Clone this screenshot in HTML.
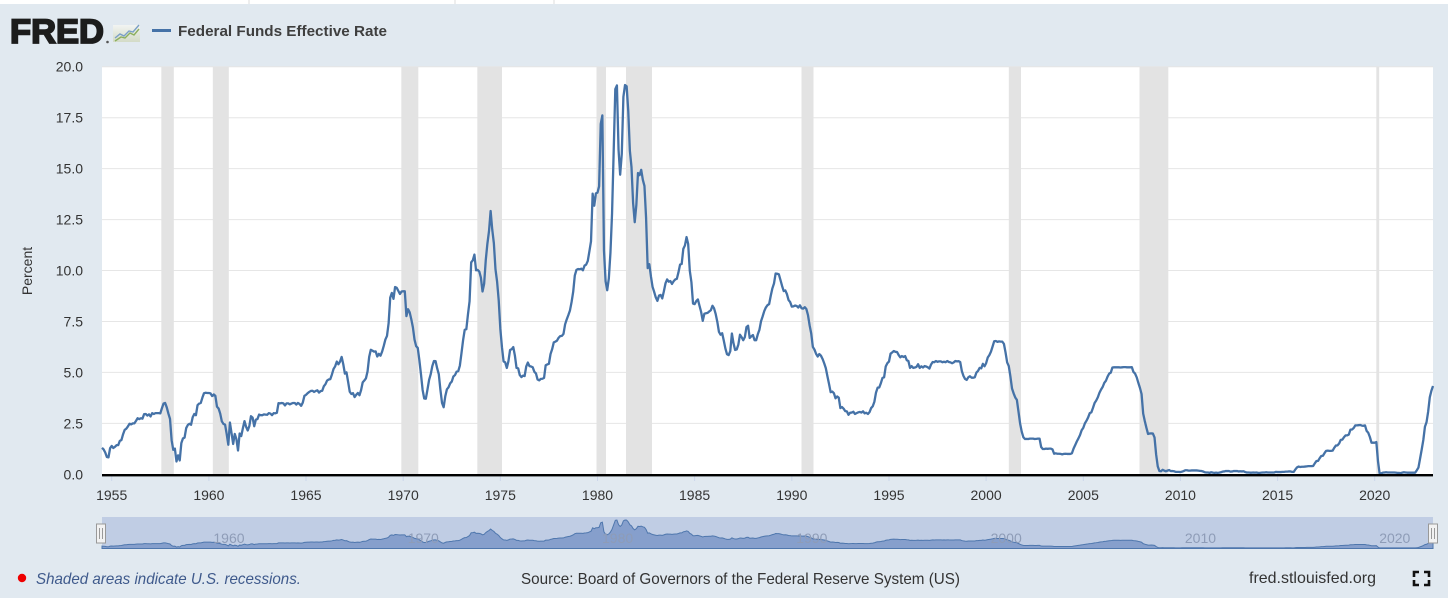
<!DOCTYPE html>
<html><head><meta charset="utf-8">
<style>
html,body{margin:0;padding:0;background:#e1e9f0;overflow:hidden;}
svg{display:block;font-family:"Liberation Sans",Arial,sans-serif;}
</style></head>
<body>
<svg id="c" width="1448" height="598" viewBox="0 0 1448 598" xmlns="http://www.w3.org/2000/svg">
<defs>
<linearGradient id="ig" x1="0" y1="0" x2="0" y2="1">
<stop offset="0" stop-color="#f2f4f2"/><stop offset="1" stop-color="#d3dbc6"/>
</linearGradient>
</defs>
<rect width="1448" height="598" fill="#e1e9f0"/>
<rect width="1448" height="4" fill="#ffffff"/>
<line x1="249" y1="0" x2="249" y2="4" stroke="#dddddd"/>
<line x1="455" y1="0" x2="455" y2="4" stroke="#dddddd"/>
<line x1="554" y1="0" x2="554" y2="4" stroke="#dddddd"/>

<!-- header -->
<text x="10" y="43.2" font-size="34.5" font-weight="bold" fill="#1c1c1c" stroke="#1c1c1c" stroke-width="1.8" textLength="94" lengthAdjust="spacingAndGlyphs">FRED</text>
<circle cx="107.5" cy="42" r="1.3" fill="#555"/>
<rect x="113" y="25" width="27" height="17" fill="url(#ig)"/>
<polyline points="115,38 120,34 124,36 129,31 133,32 139,25" fill="none" stroke="#7a9fc6" stroke-width="1.4"/>
<polyline points="115,41 121,37 125,38 130,33 134,35 139,29" fill="none" stroke="#8caf5e" stroke-width="1.4"/>
<line x1="152" y1="30.5" x2="171" y2="30.5" stroke="#4572a7" stroke-width="3"/>
<text x="178" y="36" font-size="15" font-weight="bold" fill="#3f3f3f" textLength="209" lengthAdjust="spacingAndGlyphs">Federal Funds Effective Rate</text>

<!-- plot -->
<rect x="102" y="66.7" width="1331" height="408" fill="#ffffff"/>
<g id="grid" stroke="#e6e6e6" stroke-width="1"></g>
<g id="rec" fill="#e3e3e3"></g>
<g id="ylab" font-size="14" fill="#333" text-anchor="end"></g>
<g id="xlab" font-size="14" fill="#333" text-anchor="middle"></g>
<g id="xtick" stroke="#ccd6eb" stroke-width="1"></g>
<path id="ln" d="" fill="none" stroke="#4572a7" stroke-width="2.3" stroke-linejoin="round"/>
<rect x="102" y="474" width="1331" height="2.4" fill="#000"/>
<text transform="translate(32,271) rotate(-90)" font-size="14" fill="#333" text-anchor="middle">Percent</text>

<!-- navigator -->
<rect x="102" y="517" width="1331" height="31.5" fill="#c0cde4"/>
<path id="nav" d="" fill="#869fcc" stroke="#4f77ad" stroke-width="1"/>
<g id="nlab" font-size="14" fill="#8e9cb7"></g>
<g stroke="#999" stroke-width="1">
<rect x="96.5" y="524" width="9" height="19" fill="#f2f2f2"/>
<line x1="99.5" y1="528" x2="99.5" y2="539"/><line x1="102.5" y1="528" x2="102.5" y2="539"/>
<rect x="1428.5" y="524" width="9" height="19" fill="#f2f2f2"/>
<line x1="1431.5" y1="528" x2="1431.5" y2="539"/><line x1="1434.5" y1="528" x2="1434.5" y2="539"/>
</g>

<!-- footer -->
<circle cx="22" cy="578" r="4.2" fill="#ee0000"/>
<text x="36" y="584" font-size="16" font-style="italic" fill="#3f5a8c" textLength="265" lengthAdjust="spacingAndGlyphs">Shaded areas indicate U.S. recessions.</text>
<text x="521" y="584" font-size="16" fill="#333" textLength="439" lengthAdjust="spacingAndGlyphs">Source: Board of Governors of the Federal Reserve System (US)</text>
<text x="1249" y="583" font-size="16" fill="#333" textLength="127" lengthAdjust="spacingAndGlyphs">fred.stlouisfed.org</text>
<g stroke="#111" stroke-width="2.6" fill="none">
<polyline points="1414,577 1414,572 1419,572"/>
<polyline points="1424,572 1429,572 1429,577"/>
<polyline points="1414,580 1414,585 1419,585"/>
<polyline points="1424,585 1429,585 1429,580"/>
</g>
</svg>
<script>
(function(){
var NS="http://www.w3.org/2000/svg";
var s="1.30 1.22 1.07 0.85 0.83 1.28 "+
"1.39 1.29 1.35 1.43 1.43 1.64 1.68 1.96 2.18 2.24 2.35 2.48 "+
"2.45 2.50 2.50 2.62 2.75 2.71 2.75 2.73 2.95 2.96 2.88 2.94 "+
"2.84 3.00 2.96 3.00 3.00 3.00 2.99 3.24 3.47 3.50 3.28 2.98 "+
"2.72 1.67 1.20 1.26 0.63 0.93 0.68 1.53 1.76 1.80 2.27 2.42 "+
"2.48 2.43 2.80 2.96 2.90 3.39 3.47 3.50 3.76 3.98 4.00 3.99 "+
"3.99 3.97 3.84 3.92 3.85 3.32 3.23 2.98 2.60 2.47 2.44 1.98 "+
"1.45 2.54 2.02 1.49 1.98 1.73 1.17 2.00 1.88 2.26 2.61 2.33 "+
"2.15 2.37 2.85 2.78 2.36 2.68 2.71 2.93 2.90 2.90 2.94 2.93 "+
"2.92 3.00 2.98 2.90 3.00 2.99 3.02 3.49 3.48 3.50 3.48 3.38 "+
"3.48 3.48 3.43 3.47 3.50 3.50 3.42 3.50 3.45 3.36 3.52 3.85 "+
"3.90 3.98 4.04 4.09 4.10 4.04 4.09 4.12 4.01 4.08 4.10 4.32 "+
"4.42 4.60 4.65 4.67 4.90 5.17 5.30 5.53 5.40 5.53 5.76 5.40 "+
"4.94 5.00 4.53 4.05 3.94 3.98 3.79 3.90 3.99 3.88 4.13 4.51 "+
"4.60 4.71 5.05 5.76 6.11 6.07 6.02 6.03 5.78 5.91 5.82 6.02 "+
"6.30 6.61 6.79 7.41 8.67 8.90 8.61 9.19 9.15 9.00 8.85 8.97 "+
"8.98 8.98 7.76 8.10 7.95 7.61 7.21 6.61 6.29 6.20 5.60 4.90 "+
"4.14 3.72 3.71 4.16 4.63 4.91 5.31 5.56 5.55 5.20 4.91 4.14 "+
"3.50 3.29 3.83 4.17 4.27 4.46 4.55 4.80 4.87 5.04 5.06 5.33 "+
"5.94 6.58 7.09 7.12 7.84 8.49 10.40 10.50 10.78 10.01 10.03 9.95 "+
"9.65 8.97 9.35 10.51 11.31 11.93 12.92 12.01 11.34 10.06 9.45 8.53 "+
"7.13 6.24 5.54 5.49 5.22 5.55 6.10 6.14 6.24 5.82 5.22 5.20 "+
"4.87 4.77 4.84 4.82 5.29 5.48 5.31 5.29 5.25 5.03 4.95 4.65 "+
"4.61 4.68 4.69 4.73 5.35 5.39 5.42 5.90 6.14 6.47 6.51 6.56 "+
"6.70 6.78 6.79 6.89 7.36 7.60 7.81 8.04 8.45 8.96 9.76 10.03 "+
"10.07 10.06 10.09 10.01 10.24 10.29 10.47 10.94 11.43 13.77 13.18 13.78 "+
"13.82 14.13 17.19 17.61 10.98 9.47 9.03 9.61 10.87 12.81 15.85 18.90 "+
"19.08 15.93 14.70 15.72 18.52 19.10 19.04 17.82 15.87 15.08 13.31 12.37 "+
"13.22 14.78 14.68 14.94 14.45 14.15 12.59 10.12 10.31 9.71 9.20 8.95 "+
"8.68 8.51 8.77 8.80 8.63 8.98 9.37 9.56 9.45 9.48 9.34 9.47 "+
"9.56 9.59 9.91 10.29 10.32 11.06 11.23 11.64 11.30 9.99 9.43 8.38 "+
"8.35 8.50 8.58 8.27 7.97 7.53 7.88 7.90 7.92 7.99 8.05 8.27 "+
"8.14 7.86 7.48 6.99 6.85 6.92 6.56 6.17 5.89 5.85 6.04 6.91 "+
"6.43 6.10 6.13 6.37 6.85 6.73 6.58 6.73 7.22 7.29 6.69 6.77 "+
"6.83 6.58 6.58 6.87 7.09 7.51 7.75 8.01 8.19 8.30 8.35 8.76 "+
"9.12 9.36 9.85 9.84 9.81 9.53 9.24 8.99 9.02 8.84 8.55 8.45 "+
"8.23 8.24 8.28 8.26 8.18 8.29 8.15 8.13 8.20 8.11 7.81 7.31 "+
"6.91 6.25 6.12 5.91 5.78 5.90 5.82 5.66 5.45 5.21 4.81 4.43 "+
"4.03 4.06 3.98 3.73 3.82 3.76 3.25 3.30 3.22 3.10 3.09 2.92 "+
"3.02 3.03 3.07 2.96 3.00 3.04 3.06 3.03 3.09 2.99 3.02 2.96 "+
"3.05 3.25 3.34 3.56 4.01 4.25 4.26 4.47 4.73 4.76 5.29 5.45 "+
"5.53 5.92 5.98 6.05 6.01 6.00 5.85 5.74 5.80 5.76 5.80 5.60 "+
"5.56 5.22 5.31 5.22 5.24 5.27 5.40 5.22 5.30 5.24 5.31 5.29 "+
"5.25 5.19 5.39 5.51 5.50 5.56 5.52 5.54 5.54 5.50 5.52 5.50 "+
"5.56 5.51 5.49 5.45 5.49 5.56 5.54 5.55 5.51 5.07 4.83 4.68 "+
"4.63 4.76 4.81 4.74 4.74 4.76 4.99 5.07 5.22 5.20 5.42 5.30 "+
"5.45 5.73 5.85 6.02 6.27 6.53 6.54 6.50 6.52 6.51 6.51 6.40 "+
"5.98 5.49 5.31 4.80 4.21 3.97 3.77 3.65 3.07 2.49 2.09 1.82 "+
"1.73 1.74 1.73 1.75 1.75 1.75 1.73 1.74 1.75 1.75 1.34 1.24 "+
"1.24 1.26 1.25 1.26 1.26 1.22 1.01 1.03 1.01 1.01 1.00 0.98 "+
"1.00 1.01 1.00 1.00 1.00 1.03 1.26 1.43 1.61 1.76 1.93 2.16 "+
"2.28 2.50 2.63 2.79 3.00 3.04 3.26 3.50 3.62 3.78 4.00 4.16 "+
"4.29 4.49 4.59 4.79 4.94 4.99 5.24 5.25 5.25 5.25 5.25 5.24 "+
"5.25 5.26 5.26 5.25 5.25 5.25 5.26 5.02 4.94 4.76 4.49 4.24 "+
"3.94 2.98 2.61 2.28 1.98 2.00 2.01 2.00 1.81 0.97 0.39 0.16 "+
"0.15 0.22 0.18 0.15 0.18 0.21 0.16 0.16 0.15 0.12 0.12 0.12 "+
"0.11 0.13 0.16 0.20 0.20 0.18 0.18 0.19 0.19 0.19 0.19 0.18 "+
"0.17 0.16 0.14 0.10 0.09 0.09 0.07 0.10 0.08 0.07 0.08 0.07 "+
"0.08 0.10 0.13 0.14 0.16 0.16 0.16 0.13 0.14 0.16 0.16 0.16 "+
"0.14 0.15 0.14 0.15 0.11 0.09 0.09 0.08 0.08 0.09 0.08 0.09 "+
"0.07 0.07 0.08 0.09 0.09 0.10 0.09 0.09 0.09 0.09 0.09 0.12 "+
"0.11 0.11 0.11 0.12 0.12 0.13 0.13 0.14 0.14 0.12 0.12 0.24 "+
"0.34 0.38 0.36 0.37 0.37 0.38 0.39 0.40 0.40 0.40 0.41 0.54 "+
"0.65 0.66 0.79 0.90 0.91 1.04 1.15 1.16 1.15 1.15 1.16 1.30 "+
"1.41 1.42 1.51 1.69 1.70 1.82 1.91 1.91 1.95 2.19 2.20 2.27 "+
"2.40 2.40 2.41 2.42 2.39 2.38 2.40 2.13 2.04 1.83 1.55 1.55 "+
"1.55 1.58 0.65 0.05 0.05 0.08 0.09 0.10 0.09 0.09 0.09 0.09 "+
"0.09 0.08 0.07 0.07 0.06 0.08 0.10 0.09 0.08 0.08 0.08 0.08 "+
"0.08 0.08 0.20 0.33 0.77 1.21 1.68 2.33 2.56 3.08 3.78 4.10 "+
"4.33";
var v=s.trim().split(/\s+/).map(Number);
var X0=102, PX=19.431/12, Y0=474.3, SY=20.38;
function xt(t){return X0+(t-1954.5)*19.431;}
var d="", nd="";
for(var i=0;i<v.length;i++){
  var x=(X0+i*PX).toFixed(2);
  var y=(Y0-v[i]*SY).toFixed(2);
  var ny=(548-v[i]*1.466).toFixed(2);
  d+=(i?"L":"M")+x+","+y;
  nd+=(i?"L":"M")+x+","+ny;
}
var lastx=(X0+(v.length-1)*PX).toFixed(2);
nd+="L"+lastx+",548.5L102,548.5Z";
document.getElementById("ln").setAttribute("d",d);
document.getElementById("nav").setAttribute("d",nd);
function el(tag,attrs,parent,txt){var e=document.createElementNS(NS,tag);for(var k in attrs)e.setAttribute(k,attrs[k]);if(txt!=null)e.textContent=txt;parent.appendChild(e);return e;}
var g=document.getElementById("grid"), yl=document.getElementById("ylab");
for(var k=0;k<=8;k++){
  var val=k*2.5, y=Y0-val*SY;
  if(k>0) el("line",{x1:102,x2:1433,y1:y.toFixed(1),y2:y.toFixed(1)},g);
  el("text",{x:83,y:(y+5).toFixed(1)},yl,val.toFixed(1));
}
var rec=[[161.3,173.8],[212.8,228.8],[401.3,418.3],[477.3,502],[596.5,606],[626,652],[801.5,813.5],[1008.8,1021],[1139.5,1168.3],[1376.3,1379.2]];
var r=document.getElementById("rec");
rec.forEach(function(b){el("rect",{x:b[0],y:66.7,width:(b[1]-b[0]).toFixed(1),height:407.6},r);});
var xl=document.getElementById("xlab"), xtk=document.getElementById("xtick");
for(var yr=1955;yr<=2020;yr+=5){
  var x=xt(yr);
  el("text",{x:x.toFixed(1),y:500},xl,String(yr));
  el("line",{x1:x.toFixed(1),x2:x.toFixed(1),y1:476.4,y2:481},xtk);
}
var nl=document.getElementById("nlab");
for(var yr=1960;yr<=2020;yr+=10){
  el("text",{x:(xt(yr)+4.5).toFixed(1),y:543},nl,String(yr));
}
})();
</script>
</body></html>
